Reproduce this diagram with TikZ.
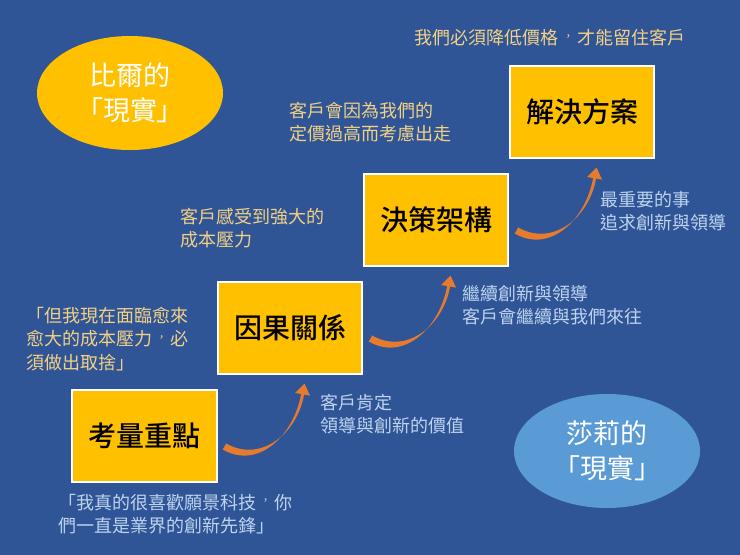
\documentclass[tikz,border=0pt]{standalone}
\usepackage{fontspec}
\setmainfont{Noto Sans CJK TC}[Script=CJK,Language=Chinese Traditional]
\newfontfamily\stepfont{Noto Sans CJK TC Medium}[Script=CJK,Language=Chinese Traditional]
\usetikzlibrary{arrows.meta,shapes.geometric,calc}

\definecolor{bgblue}{HTML}{2F5597}
\definecolor{boxyellow}{HTML}{FFC000}
\definecolor{skyblue}{HTML}{5B9BD5}
\definecolor{goldtext}{HTML}{F2D184}
\definecolor{paleblue}{HTML}{BDD3EE}
\definecolor{arroworange}{HTML}{E67B2E}

% Full-width comma set in the middle of its cell, Taiwan style
\newcommand{\tccomma}{\hspace{.22em}\raisebox{.26em}{\fontsize{11}{11}\selectfont ，}\hspace{.17em}}

% Tapered curved arrow from one step up to the next
\newcommand{\stairarrow}[2]{%
  \path ([xshift=7pt,yshift=-11pt]#1.east) coordinate (tail)
        ([xshift=14pt,yshift=-9pt]#2.south) coordinate (tip)
        ($(tip)+(-1.9,-10.8)$) coordinate (neck);
  \fill[climb] ($(tail)+(1.75,3.03)$) to[out=-30,in=-100,looseness=1.1] ($(neck)+(1.48,-0.26)$)
     -- ($(neck)+(7.4,-1.3)$) -- (tip) -- ($(neck)-(7.4,-1.3)$) -- ($(neck)-(1.48,-0.26)$)
     to[out=-100,in=-30,looseness=1.1] ($(tail)-(1.75,3.03)$) -- cycle;}

\begin{document}
\begin{tikzpicture}[x=1pt,y=1pt,
  every matrix/.style={ampersand replacement=\&,column sep=0pt,row sep=14pt},
  stepbox/.style={draw=white, line width=2pt, fill=boxyellow, minimum width=144pt, minimum height=92pt, font=\stepfont\fontsize{28}{34}\selectfont},
  bubble/.style={ellipse, minimum width=186pt, minimum height=114pt, inner sep=0pt, text=white, align=center, font=\fontsize{27}{35}\selectfont},
  goldnote/.style={anchor=west, align=left, inner sep=0pt, text=goldtext, font=\fontsize{18}{23.5}\selectfont},
  bluenote/.style={goldnote, text=paleblue},
  climb/.style={fill=arroworange}]

% Background of the slide
\fill[bgblue] (0,0) rectangle (740,-555);
\useasboundingbox (0,0) rectangle (740,-555);

% The four steps as a staircase
\matrix (stairs) at (363.5,-273.5) {
  \& \& \& \node[stepbox] (solution) {解決方案}; \\
  \& \& \node[stepbox] (framework) {決策架構}; \& \\
  \& \node[stepbox] (causality) {因果關係}; \& \& \\
  \node[stepbox] (focus) {考量重點}; \& \& \& \\
};

% The two points of view
\node[bubble, fill=boxyellow] (bill) at (130,-93) {比爾的\\「現實」};
\node[bubble, fill=skyblue] (sally) at (607,-451) {莎莉的\\「現實」};

% Bill's side
\node[goldnote, anchor=center] (mustcut) at (550,-38) {我們必須降低價格\tccomma 才能留住客戶};
\node[goldnote] (leave) at (289,-122) {客戶會因為我們的\\定價過高而考慮出走};
\node[goldnote] (pressure) at (180,-228) {客戶感受到強大的\\成本壓力};
\node[goldnote] (tradeoff) at (26,-339) {「但我現在面臨愈來\\愈大的成本壓力\tccomma 必\\須做出取捨」};

% Sally's side
\node[bluenote] (pioneer) at (58,-514) {「我真的很喜歡願景科技\tccomma 你\\們一直是業界的創新先鋒」};
\node[bluenote] (value) at (320,-414) {客戶肯定\\領導與創新的價值};
\node[bluenote] (stay) at (462,-305) {繼續創新與領導\\客戶會繼續與我們來往};
\node[bluenote] (priority) at (600,-211) {最重要的事\\追求創新與領導};

% Curved arrows climbing the stairs
\stairarrow{focus}{causality}
\stairarrow{causality}{framework}
\stairarrow{framework}{solution}

\end{tikzpicture}
\end{document}
